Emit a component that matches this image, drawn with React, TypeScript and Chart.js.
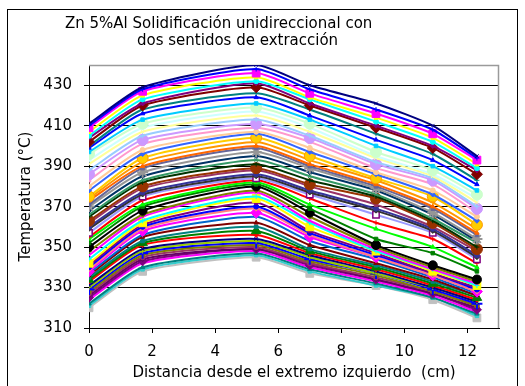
import React, { useEffect, useRef } from 'react';
import { Chart, registerables } from 'chart.js';
Chart.register(...registerables);

// ---- data ----
const xPositions = [0, 1.7, 5.3, 7.0, 9.1, 10.9, 12.3];
const yTickValues = [310, 330, 350, 370, 390, 410, 430];
const xTickValues = [0, 2, 4, 6, 8, 10, 12];
const titleLine1 = 'Zn 5%Al Solidificación unidireccional con';
const titleLine2 = 'dos sentidos de extracción';
const xAxisTitle = 'Distancia desde el extremo izquierdo  (cm)';
const yAxisTitle = 'Temperatura (°C)';

const line01 = [411, 429, 440, 430, 421, 410, 395];
const line02 = [410, 428, 438, 428, 418, 408, 394];
const line03 = [409, 427, 436, 426, 416, 406, 393];
const line04 = [407, 425, 434, 424, 414, 404, 391];
const line05 = [405, 423, 432, 423, 412, 402, 389];
const line06 = [404, 421, 431, 421, 410, 400, 388];
const line07 = [402, 420, 429, 420, 409, 399, 386];
const line08 = [400, 418, 426, 418, 406, 396, 383];
const line09 = [399, 416, 424, 415, 403, 393, 381];
const line10 = [397, 413, 421, 413, 400, 390, 378];
const line11 = [396, 411, 419, 411, 397, 388, 376];
const line12 = [393, 409, 417, 409, 395, 386, 374];
const line13 = [391, 407, 415, 407, 394, 385, 372];
const line14 = [388, 405, 413, 405, 392, 384, 370];
const line15 = [386, 403, 411, 404, 391, 383, 369];
const line16 = [383, 401, 409, 402, 389, 381, 367];
const line17 = [380, 398, 407, 399, 387, 378, 365];
const line18 = [378, 396, 406, 397, 386, 376, 363];
const line19 = [375, 394, 404, 395, 384, 375, 361];
const line20 = [374, 392, 402, 393, 383, 372, 359];
const line21 = [373, 390, 400, 391, 381, 370, 357];
const line22 = [371, 389, 399, 390, 380, 369, 356];
const line23 = [370, 387, 397, 389, 379, 367, 354];
const line24 = [368, 385, 395, 387, 378, 366, 353];
const line25 = [366, 383, 393, 385, 376, 364, 352];
const line26 = [365, 382, 391, 383, 375, 363, 350];
const line27 = [363, 380, 389, 381, 374, 362, 349];
const line28 = [362, 379, 388, 380, 371, 360, 348];
const line29 = [360, 377, 386, 378, 369, 359, 346];
const line30 = [359, 376, 385, 377, 368, 358, 345];
const line31 = [357, 375, 384, 376, 366, 357, 344];
const line32 = [355, 373, 383, 374, 362, 354, 342];
const line33 = [354, 371, 382, 371, 359, 350, 340];
const line34 = [352, 370, 381, 369, 354, 347, 338];
const line35 = [350, 368, 380, 367, 351, 341, 334];
const line36 = [348, 366, 378, 365, 350, 340, 333];
const line37 = [346, 365, 377, 363, 349, 339, 332];
const line38 = [344, 363, 375, 362, 348, 339, 331];
const line39 = [342, 362, 374, 360, 348, 338, 331];
const line40 = [341, 361, 372, 358, 347, 337, 330];
const line41 = [340, 360, 370, 357, 346, 337, 329];
const line42 = [339, 359, 369, 356, 345, 336, 328];
const line43 = [338, 358, 367, 355, 345, 336, 328];
const line44 = [337, 356, 365, 353, 344, 335, 327];
const line45 = [336, 355, 362, 351, 342, 334, 326];
const line46 = [335, 353, 360, 349, 341, 333, 326];
const line47 = [334, 352, 358, 348, 340, 332, 325];
const line48 = [333, 351, 356, 347, 339, 331, 324];
const line49 = [331, 349, 354, 346, 338, 330, 323];
const line50 = [330, 348, 353, 345, 337, 330, 323];
const line51 = [329, 347, 352, 344, 337, 329, 322];
const line52 = [328, 346, 351, 343, 336, 328, 321];
const line53 = [327, 345, 350, 342, 335, 328, 321];
const line54 = [326, 344, 349, 342, 334, 327, 320];
const line55 = [325, 343, 349, 341, 334, 327, 319];
const line56 = [324, 342, 348, 340, 333, 326, 318];
const line57 = [322, 340, 347, 339, 332, 325, 317];
const line58 = [321, 339, 346, 338, 331, 325, 316];
const line59 = [320, 338, 345, 337, 331, 324, 315];

const allLines = [
  line01, line02, line03, line04, line05, line06, line07, line08, line09, line10,
  line11, line12, line13, line14, line15, line16, line17, line18, line19, line20,
  line21, line22, line23, line24, line25, line26, line27, line28, line29, line30,
  line31, line32, line33, line34, line35, line36, line37, line38, line39, line40,
  line41, line42, line43, line44, line45, line46, line47, line48, line49, line50,
  line51, line52, line53, line54, line55, line56, line57, line58, line59,
];

// ---- styles ----
const lineColors = [
  '#000080', '#0000FF', '#FF00FF', '#FFFF00', '#00FFFF', '#800080', '#800000', '#008080', '#0000FF', '#00CCFF',
  '#CCFFCC', '#CCFFFF', '#FFFF99', '#99CCFF', '#CC99FF', '#FF99CC', '#FFCC99', '#3366FF', '#FFCC00', '#FF9900',
  '#FF6600', '#666699', '#969696', '#003366', '#339966', '#003300', '#993300', '#993366', '#333399', '#333333',
  '#9999FF', '#FF0000', '#00FF00', '#008000', '#000000', '#808000', '#FF00FF', '#00FFFF', '#FFFF00', '#800080',
  '#0000FF', '#FF8080', '#FF00FF', '#0066CC', '#800000', '#008080', '#008000', '#FF0000', '#000080', '#99CC00',
  '#0000FF', '#808000', '#993366', '#660066', '#800080', '#FF00FF', '#008080', '#33CCCC', '#C0C0C0',
];

type MarkerSpec = { style: string; fill: string; border: string; r: number; bw: number };
const markerSpecs: Record<number, MarkerSpec> = {
  2: { style: 'rect', fill: '#FF00FF', border: '#FF00FF', r: 5.5, bw: 1 },
  6: { style: 'rectRot', fill: '#800000', border: '#800000', r: 5.5, bw: 1 },
  10: { style: 'circle', fill: '#CCFFCC', border: '#CCFFCC', r: 5.5, bw: 1 },
  14: { style: 'circle', fill: '#CC99FF', border: '#CC99FF', r: 5.5, bw: 1 },
  18: { style: 'circle', fill: '#FFCC00', border: '#FF9900', r: 5.5, bw: 1 },
  22: { style: 'star', fill: '#969696', border: '#969696', r: 5.5, bw: 2 },
  26: { style: 'circle', fill: '#993300', border: '#993300', r: 5.5, bw: 1 },
  30: { style: 'rect', fill: '#FFFFFF', border: '#800080', r: 4.5, bw: 1.5 },
  34: { style: 'circle', fill: '#000000', border: '#000000', r: 4.5, bw: 1 },
  38: { style: 'rect', fill: '#FFFF00', border: '#FFFF00', r: 5.5, bw: 1 },
  42: { style: 'rectRot', fill: '#FF00FF', border: '#FF00FF', r: 5.5, bw: 1 },
  46: { style: 'triangle', fill: '#008000', border: '#008000', r: 5.5, bw: 1 },
  50: { style: 'cross', fill: '#0000FF', border: '#0000FF', r: 5.5, bw: 2 },
  54: { style: 'rectRot', fill: '#800080', border: '#800080', r: 4.5, bw: 1 },
  58: { style: 'rect', fill: '#C0C0C0', border: '#C0C0C0', r: 5.5, bw: 1 },
};
const smallStyles = ['crossRot', 'cross', 'triangle', 'rect', 'circle', 'rectRot'];

const FONT = '"DejaVu Sans", Verdana, sans-serif';

const framePlugin = {
  id: 'frame',
  beforeDraw(chart: any) {
    const { ctx } = chart;
    ctx.save();
    ctx.fillStyle = '#ffffff';
    ctx.fillRect(0, 0, chart.width, chart.height);
    ctx.strokeStyle = '#000000';
    ctx.lineWidth = 1;
    ctx.strokeRect(7.5, 9.5, 510, 380);
    ctx.restore();
  },
  beforeDatasetsDraw(chart: any) {
    const { ctx, chartArea: a } = chart;
    ctx.save();
    ctx.strokeStyle = '#9a9a9a';
    ctx.lineWidth = 1.5;
    ctx.beginPath();
    ctx.moveTo(a.left, a.top + 0.5);
    ctx.lineTo(a.right - 0.5, a.top + 0.5);
    ctx.lineTo(a.right - 0.5, a.bottom);
    ctx.stroke();
    ctx.restore();
  },
  afterDraw(chart: any) {
    const { ctx } = chart;
    ctx.save();
    ctx.fillStyle = '#000000';
    ctx.font = '15px ' + FONT;
    ctx.textBaseline = 'middle';
    ctx.textAlign = 'left';
    ctx.fillText(titleLine1, 65, 24);
    ctx.fillText(titleLine2, 137, 41);
    ctx.restore();
  },
};

export default function App() {
  const ref = useRef<HTMLCanvasElement>(null);
  useEffect(() => {
    if (!ref.current) return;
    const datasets = allLines.map((vals, i) => {
      const m = markerSpecs[i];
      const color = lineColors[i % lineColors.length];
      return {
        label: 'S' + (i + 1),
        data: xPositions.map((x, j) => ({ x, y: vals[j] })),
        borderColor: color,
        borderWidth: 2,
        tension: 0.2,
        pointStyle: m ? m.style : smallStyles[i % smallStyles.length],
        pointRadius: m ? m.r : 2.5,
        pointBackgroundColor: m ? m.fill : color,
        pointBorderColor: m ? m.border : color,
        pointBorderWidth: m ? m.bw : 1,
        fill: false,
      };
    });
    const chart = new Chart(ref.current, {
      type: 'line',
      data: { datasets } as any,
      plugins: [framePlugin],
      options: {
        animation: false,
        responsive: false,
        events: [],
        layout: { padding: { left: 12, right: 26, top: 65, bottom: 0 } },
        plugins: { legend: { display: false }, title: { display: false }, tooltip: { enabled: false } },
        scales: {
          x: {
            type: 'linear',
            min: 0,
            max: 13,
            afterBuildTicks: (s: any) => { s.ticks = xTickValues.map((v) => ({ value: v })); },
            afterFit: (s: any) => { s.height = 58; },
            grid: { drawOnChartArea: false, drawTicks: true, tickLength: 5, color: '#000000' },
            border: { color: '#000000', width: 1 },
            ticks: { color: '#000000', font: { family: FONT, size: 15 }, padding: 10, maxRotation: 0, autoSkip: false },
            title: { display: true, text: xAxisTitle, color: '#000000', font: { family: FONT, size: 15 }, padding: { top: 0, bottom: 4 } },
          },
          y: {
            type: 'linear',
            min: 310,
            max: 440,
            afterBuildTicks: (s: any) => { s.ticks = yTickValues.map((v) => ({ value: v })); },
            afterFit: (s: any) => { s.width = 77; },
            grid: { color: '#000000', lineWidth: 1, tickLength: 5 },
            border: { color: '#000000', width: 1 },
            ticks: { color: '#000000', font: { family: FONT, size: 15 }, padding: 12, autoSkip: false },
            title: { display: true, text: yAxisTitle, color: '#000000', font: { family: FONT, size: 15 }, padding: { top: 5, bottom: 0 } },
          },
        },
      } as any,
    });
    return () => chart.destroy();
  }, []);
  return (
    <canvas
      ref={ref}
      width={525}
      height={386}
      style={{ position: 'fixed', left: 0, top: 0, width: 525, height: 386 }}
    />
  );
}
